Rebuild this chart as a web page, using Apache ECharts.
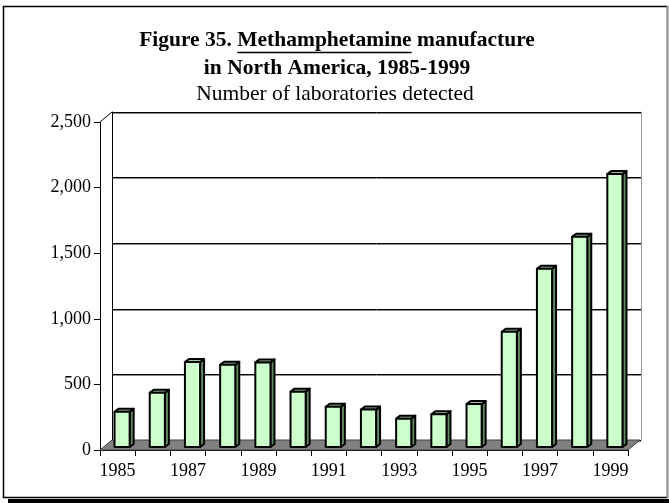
<!DOCTYPE html>
<html>
<head>
<meta charset="utf-8">
<style>
  html, body { margin: 0; padding: 0; background: #fff; }
  #chart { width: 669px; height: 503px; }
</style>
<script src="https://cdn.jsdelivr.net/npm/echarts@6/dist/echarts.min.js"></script>
</head>
<body>
<div id="chart"></div>
<script>
// Clandestine methamphetamine laboratories detected in North America
const years = ['1985', '1986', '1987', '1988', '1989', '1990', '1991', '1992',
               '1993', '1994', '1995', '1996', '1997', '1998', '1999'];
const labsDetected = [269, 414, 648, 627, 645, 422, 307, 285,
                      216, 250, 327, 879, 1359, 1603, 2080];
const yTickValues = [0, 500, 1000, 1500, 2000, 2500];
const yTickLabels = ['0', '500', '1,000', '1,500', '2,000', '2,500'];

const SERIF = "'Liberation Serif', 'Times New Roman', serif";

// pseudo-3D depth of the plot box (back wall offset) and of each bar
const WALL_DX = 12, WALL_DY = 10;
const BAR_SHIFT_X = 4.5, BAR_SHIFT_Y = 3;
const BAR_DX = 4, BAR_DY = 3;

const chart = echarts.init(document.getElementById('chart'), null, { renderer: 'canvas' });

function measure(text, font) {
  const ctx = document.createElement('canvas').getContext('2d');
  ctx.font = font;
  return ctx.measureText(text).width;
}

const titleFont = 'bold 21.5px ' + SERIF;
const t1a = 'Figure 35. ', t1b = 'Methamphetamine', t1c = ' manufacture';
const titleCx = 337;
const fullW = measure(t1a + t1b + t1c, titleFont);
const ulStart = titleCx - fullW / 2 + measure(t1a, titleFont);
const ulLen = measure(t1b, titleFont);

function renderFloor(params, api) {
  const cs = params.coordSys;
  const bx = cs.x, by = cs.y + cs.height, bw = cs.width;
  return {
    type: 'group',
    children: [
      {
        type: 'polygon',
        shape: { points: [[bx, by], [bx + bw, by], [bx + bw + WALL_DX, by - WALL_DY], [bx + WALL_DX, by - WALL_DY]] },
        style: { fill: '#808080', stroke: '#404040', lineWidth: 1 }
      },
      {
        type: 'line',
        shape: { x1: cs.x, y1: cs.y, x2: cs.x + WALL_DX, y2: cs.y - WALL_DY },
        style: { stroke: '#000', lineWidth: 1 }
      }
    ]
  };
}

function renderBar(params, api) {
  const i = api.value(0), v = api.value(1);
  const top = api.coord([i, v]);
  const base = api.coord([i, 0]);
  const band = api.size([1, 0])[0];
  const w = band * 0.43;
  const x1 = top[0] + BAR_SHIFT_X - w / 2, x2 = x1 + w;
  const yb = base[1] - BAR_SHIFT_Y, yt = top[1] - BAR_SHIFT_Y;
  const edge = { stroke: '#000', lineWidth: 2, lineJoin: 'round' };
  return {
    type: 'group',
    children: [
      {
        type: 'polygon',
        shape: { points: [[x2, yb], [x2, yt], [x2 + BAR_DX, yt - BAR_DY], [x2 + BAR_DX, yb - BAR_DY]] },
        style: Object.assign({ fill: '#5f8a5f' }, edge)
      },
      {
        type: 'polygon',
        shape: { points: [[x1, yt], [x2, yt], [x2 + BAR_DX, yt - BAR_DY], [x1 + BAR_DX, yt - BAR_DY]] },
        style: Object.assign({ fill: '#9cc49c' }, edge)
      },
      {
        type: 'rect',
        shape: { x: x1, y: yt, width: w, height: yb - yt },
        style: Object.assign({ fill: '#ccffcc' }, edge)
      }
    ]
  };
}

const option = {
  backgroundColor: '#ffffff',
  animation: false,
  grid: [
    { left: 100, top: 122, width: 528, height: 328 },
    { left: 112, top: 112, width: 529, height: 328 }
  ],
  xAxis: [
    {
      type: 'category', gridIndex: 0, data: years,
      axisLine: { lineStyle: { color: '#000', width: 1 } },
      axisTick: { show: true, interval: 0, length: 6, lineStyle: { color: '#000' } },
      axisLabel: { interval: 1, color: '#000', fontFamily: SERIF, fontSize: 18, margin: 12 },
      splitLine: { show: false }
    },
    {
      type: 'category', gridIndex: 1, data: years, show: false
    }
  ],
  yAxis: [
    {
      type: 'value', gridIndex: 0, min: 0, max: 2500, interval: 500,
      axisLine: { show: true, lineStyle: { color: '#000', width: 1 } },
      axisTick: { show: true, length: 6, lineStyle: { color: '#000' } },
      axisLabel: {
        color: '#000', fontFamily: SERIF, fontSize: 18, margin: 9,
        formatter: v => yTickLabels[yTickValues.indexOf(v)]
      },
      splitLine: { show: false }
    },
    {
      type: 'value', gridIndex: 1, min: 0, max: 2500, interval: 500,
      axisLine: { show: true, lineStyle: { color: '#000', width: 1 } },
      axisTick: { show: false },
      axisLabel: { show: false },
      splitLine: {
        show: true,
        lineStyle: { color: '#000', width: 1, shadowColor: 'rgba(0,0,0,0.45)', shadowOffsetY: 1, shadowBlur: 0 }
      }
    },
    {
      type: 'value', gridIndex: 1, min: 0, max: 2500, interval: 500, position: 'right',
      axisLine: { show: true, lineStyle: { color: '#999', width: 1 } },
      axisTick: { show: false },
      axisLabel: { show: false },
      splitLine: { show: false }
    }
  ],
  series: [
    {
      type: 'custom', name: 'floor', xAxisIndex: 0, yAxisIndex: 0,
      data: [[0, 0]], renderItem: renderFloor, z: 1, silent: true
    },
    {
      type: 'custom', name: 'Laboratories', xAxisIndex: 0, yAxisIndex: 0,
      data: labsDetected.map((v, i) => [i, v]),
      encode: { x: 0, y: 1 },
      renderItem: renderBar, z: 3
    }
  ],
  graphic: [
    // page frame with drop shadow
    { type: 'rect', shape: { x: 8, y: 499, width: 670, height: 6 }, style: { fill: '#000' }, z: 0 },
    { type: 'rect', shape: { x: 3.5, y: 6.5, width: 664, height: 491 }, style: { fill: 'none', stroke: '#000', lineWidth: 1.5 }, z: 0 },
    { type: 'line', shape: { x1: 667.5, y1: 6, x2: 667.5, y2: 498 }, style: { stroke: '#9a9a9a', lineWidth: 1.5 }, z: 1 },
    {
      type: 'text', x: titleCx, y: 40,
      style: { text: t1a + t1b + t1c, font: titleFont, fill: '#000', textAlign: 'center', textVerticalAlign: 'middle' }
    },
    {
      type: 'line', shape: { x1: ulStart, y1: 52.5, x2: ulStart + ulLen, y2: 52.5 },
      style: { stroke: '#000', lineWidth: 1.3 }
    },
    {
      type: 'text', x: titleCx, y: 68,
      style: { text: 'in North America, 1985-1999', font: titleFont, fill: '#000', textAlign: 'center', textVerticalAlign: 'middle' }
    },
    {
      type: 'text', x: titleCx - 2, y: 94,
      style: { text: 'Number of laboratories detected', font: '21.5px ' + SERIF, fill: '#000', textAlign: 'center', textVerticalAlign: 'middle' }
    }
  ]
};

chart.setOption(option);
</script>
</body>
</html>
